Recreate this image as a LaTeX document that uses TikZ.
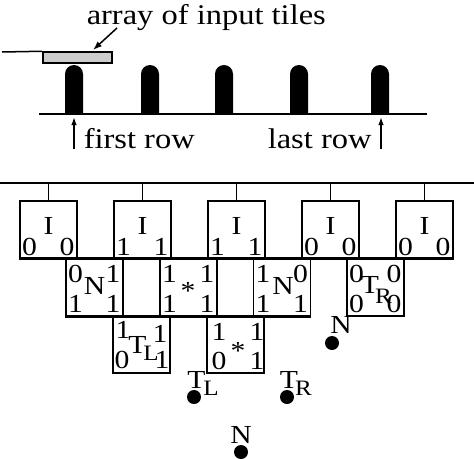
\documentclass[tikz,border=0pt]{standalone}
\usepackage{fontspec}
\usepackage{graphicx}
\setmainfont{Liberation Serif}
\usetikzlibrary{arrows.meta}
\newcommand{\wtxt}[1]{\scalebox{1.14}[1]{#1}}
\begin{document}
\begin{tikzpicture}[x=1pt,y=-1pt, line width=1.5pt,
  tile/.style={draw, line width=1.5pt, minimum width=57pt, minimum height=57pt, inner sep=0pt},
  big/.style={font=\fontsize{28.5}{32}\selectfont, inner sep=0pt, anchor=base west},
  lab/.style={font=\fontsize{26}{29}\selectfont, inner sep=0pt, anchor=base},
  sub/.style={font=\fontsize{22}{24}\selectfont, inner sep=0pt, anchor=base},
  dot/.style={circle, fill, draw=none, inner sep=0pt, minimum size=14pt},
  tip/.style={-{Latex[length=9pt,width=6.5pt]}}]
\useasboundingbox (0,0) rectangle (474,458);

% ---------- top part ----------
\node[big] (title) at (86,24) {\wtxt{array of input tiles}};
\coordinate (arrS) at (117,28);
\coordinate (arrE) at (93,50);
\draw[tip] (arrS) -- (arrE);
\coordinate (lineL) at (2,52);
\node[draw, fill=black!20, line width=1.5pt, minimum width=69pt, minimum height=11pt, inner sep=0pt] (input) at (77.5,57.5) {};
\draw (lineL) -- (input.north west);
\coordinate (baseL) at (39,114);
\coordinate (baseR) at (427,114);
\foreach \x in {74,150,224,299,380}{
  \fill (\x-9,114) -- (\x-9,74) arc[start angle=180,end angle=360,x radius=9,y radius=9] -- (\x+9,114) -- cycle;
}
\draw (baseL) -- (baseR);
\coordinate (a1s) at (74,149);
\coordinate (a1e) at (74,117);
\coordinate (a2s) at (381,149);
\coordinate (a2e) at (381,117);
\draw[-{Latex[length=8pt,width=5.5pt]}] (a1s) -- (a1e);
\draw[-{Latex[length=8pt,width=5.5pt]}] (a2s) -- (a2e);
\node[big] (first) at (83,148) {\wtxt{first row}};
\node[big] (last) at (267,148) {\wtxt{last row}};

% ---------- bottom part ----------
\coordinate (topL) at (0,183);
\coordinate (topR) at (474,183);
\draw (topL) -- (topR);

\node[tile] (i1) at (48.5,229.5) {};
\node[tile] (i2) at (142.5,229.5) {};
\node[tile] (i3) at (236.5,229.5) {};
\node[tile] (i4) at (330.5,229.5) {};
\node[tile] (i5) at (424.5,229.5) {};
\foreach \n in {i1,i2,i3,i4,i5}{ \draw (\n.north) -- (\n.north |- topL); }
\draw (i1.south west) -- (i5.south east);

\node[tile, minimum height=58pt] (n1) at (94.5,287) {};
\node[tile, minimum height=58pt] (s1) at (188.5,287) {};
\node[tile, minimum height=58pt] (n2) at (282,287) {};
\node[tile, minimum height=58pt] (tr) at (375.5,287) {};
\draw (n1.south west) -- (n2.south east);

\node[tile] (tl) at (141.5,344.5) {};
\node[tile] (s2) at (235.5,344.5) {};

% I box labels
\foreach \c/\a/\b [count=\k] in {48.5/0/0,142.5/1/1,236.5/1/1,330.5/0/0,424.5/0/0}{
  \node[lab] (iI\k) at (\c,234) {\wtxt{I}};
  \node[lab] (iL\k) at (\c-19,255) {\wtxt{\a}};
  \node[lab] (iR\k) at (\c+18.5,255) {\wtxt{\b}};
}
% row 2 labels
\foreach \c/\p/\q/\r/\s [count=\k] in {94.5/0/1/1/1,188.5/1/1/1/1,282/1/0/1/1,375.5/0/0/0/0}{
  \node[lab] (rUL\k) at (\c-19,282) {\wtxt{\p}};
  \node[lab] (rUR\k) at (\c+18.5,282) {\wtxt{\q}};
  \node[lab] (rLL\k) at (\c-19,312) {\wtxt{\r}};
  \node[lab] (rLR\k) at (\c+18.5,312) {\wtxt{\s}};
}
\node[lab] (nN1) at (94.5,294) {\wtxt{N}};
\node[lab] (nS1) at (188,299) {\wtxt{*}};
\node[lab] (nN2) at (283,294) {\wtxt{N}};
\node[lab] (nT) at (370,293) {\wtxt{T}};
\node[sub] (nR) at (383.5,303) {\wtxt{R}};

% row 3 labels
\node[lab] (tUL) at (123,338) {\wtxt{1}};
\node[lab] (tUR) at (160,342) {\wtxt{1}};
\node[lab] (tLL) at (122,368) {\wtxt{0}};
\node[lab] (tLR) at (162,368) {\wtxt{1}};
\node[lab] (tT) at (137.5,353) {\wtxt{T}};
\node[sub] (tL) at (151,360) {\wtxt{L}};

\node[lab] (sUL) at (219,340) {\wtxt{1}};
\node[lab] (sUR) at (257,340) {\wtxt{1}};
\node[lab] (sLL) at (219,369) {\wtxt{0}};
\node[lab] (sLR) at (257,369) {\wtxt{1}};
\node[lab] (sS) at (238,359) {\wtxt{*}};

% dots
\node[dot] (d1) at (332,343) {};
\node[lab] (d1l) at (341,333) {\wtxt{N}};
\node[dot] (d2) at (194,397) {};
\node[lab] (d2t) at (196.5,388) {\wtxt{T}};
\node[sub] (d2s) at (211,395) {\wtxt{L}};
\node[dot] (d3) at (287,397) {};
\node[lab] (d3t) at (289,388) {\wtxt{T}};
\node[sub] (d3s) at (303.5,395) {\wtxt{R}};
\node[dot] (d4) at (241,452) {};
\node[lab] (d4l) at (241,443) {\wtxt{N}};
\end{tikzpicture}
\end{document}
